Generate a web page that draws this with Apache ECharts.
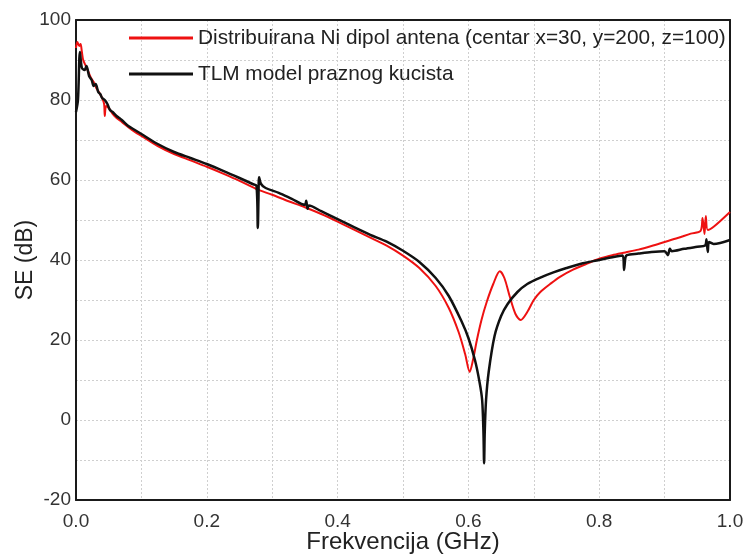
<!DOCTYPE html>
<html>
<head>
<meta charset="utf-8">
<script src="https://cdn.jsdelivr.net/npm/echarts@6/dist/echarts.min.js"></script>
<style>html,body{margin:0;padding:0;background:#fff}#c{width:750px;height:554px}</style>
</head>
<body>
<div id="c"></div>
<script>
const seriesNames = ["Distribuirana Ni dipol antena (centar x=30, y=200, z=100)", "TLM model praznog kucista"];
const xTicks = [0, 0.2, 0.4, 0.6, 0.8, 1.0];
const yTicks = [-20, 0, 20, 40, 60, 80, 100];

const redFreq = [0.000,0.002,0.005,0.007,0.009,0.011,0.015,0.019,0.023,0.027,0.031,0.035,0.040,0.043,0.044,0.046,0.050,0.056,0.062,0.070,0.080,0.090,0.100,0.125,0.150,0.175,0.200,0.225,0.250,0.275,0.300,0.325,0.350,0.375,0.400,0.425,0.450,0.475,0.500,0.525,0.550,0.570,0.585,0.595,0.602,0.607,0.613,0.620,0.628,0.638,0.648,0.655,0.663,0.672,0.680,0.690,0.700,0.710,0.725,0.740,0.760,0.780,0.800,0.820,0.840,0.860,0.880,0.900,0.920,0.940,0.955,0.958,0.961,0.963,0.966,0.975,1.000];
const redSE = [93,94.5,93.5,94,92,90,88.5,87,85.5,84.5,83,82,80.5,79,76,78.5,78,76.5,75.5,74.5,73.2,72,71,68.5,66.5,64.9,63.3,61.6,59.8,57.8,56.3,54.7,53.2,51.5,49.6,47.6,45.6,43.6,41.1,38,33.5,28,22,16.5,12,15,20,25,29.5,34,37.2,35.5,31,26.5,25,27,30,32,34,35.8,37.6,39,40.3,41.2,41.9,42.6,43.5,44.5,45.5,46.6,47.3,50.5,46.5,51,47.5,48.3,52];

const blackFreq = [0.000,0.003,0.006,0.009,0.013,0.016,0.020,0.024,0.027,0.030,0.034,0.037,0.040,0.044,0.048,0.052,0.056,0.062,0.070,0.080,0.090,0.100,0.125,0.150,0.175,0.200,0.225,0.250,0.270,0.276,0.278,0.279,0.280,0.283,0.290,0.310,0.330,0.350,0.352,0.354,0.356,0.375,0.400,0.425,0.450,0.475,0.500,0.525,0.550,0.570,0.590,0.600,0.610,0.617,0.621,0.623,0.624,0.625,0.627,0.631,0.640,0.650,0.660,0.675,0.690,0.710,0.730,0.750,0.775,0.800,0.820,0.836,0.838,0.840,0.842,0.860,0.880,0.900,0.905,0.908,0.911,0.930,0.950,0.962,0.964,0.966,0.968,0.975,1.000];
const blackSE = [77,80,92,88,87.5,88.5,86,85,83.5,84,82,81.5,80.5,80,79,77.5,77,76,75,73.5,72.5,71.5,69,67,65.5,64,62.3,60.5,59,58.5,48,55,60.7,59,58,56.8,55.3,53.8,54.8,52.8,53.6,52.2,50.2,48.2,46.3,44.6,42.3,39.5,35.5,31,24.5,20.5,15,9.5,5,-3,-10.8,-3,5,12,21,26,29,32,34,35.6,36.9,38,39.2,40,40.7,41.1,37.5,40.5,41.2,41.6,42,42.2,41.2,42.8,42.2,42.8,43.3,43.6,45.2,42,44.5,44,45];

const zip = (a, b) => a.map((x, i) => [x, b[i]]);
const font = "Arial, 'Liberation Sans', sans-serif";
const gridLine = { show: true, showMinLine: false, showMaxLine: false, lineStyle: { color: '#cfcfcf', type: [2, 2], width: 1 } };
const frameLine = { show: true, onZero: false, lineStyle: { color: '#1a1a1a', width: 2 } };

const chart = echarts.init(document.getElementById('c'), null, { renderer: 'canvas' });
chart.setOption({
  animation: false,
  backgroundColor: '#fff',
  grid: { left: 76, right: 20, top: 20, bottom: 54, containLabel: false, outerBoundsMode: 'none' },
  legend: {
    orient: 'vertical', left: 124, top: 21, icon: 'rect', itemWidth: 64, itemHeight: 3, itemGap: 12,
    textStyle: { fontFamily: font, fontSize: 20.8, color: '#222', lineHeight: 24 },
    data: seriesNames
  },
  xAxis: [{
    type: 'value', min: xTicks[0], max: xTicks[xTicks.length - 1], interval: 0.2,
    name: 'Frekvencija (GHz)', nameLocation: 'middle', nameGap: 30, nameMoveOverlap: false,
    nameTextStyle: { fontFamily: font, fontSize: 24, color: '#222' },
    axisLine: frameLine,
    axisTick: { show: false },
    axisLabel: { margin: 12, fontFamily: font, fontSize: 19, color: '#333', formatter: v => v.toFixed(1) },
    splitLine: gridLine,
    minorTick: { show: false, splitNumber: 2 },
    minorSplitLine: gridLine
  }, {
    type: 'value', position: 'top', min: 0, max: 1,
    axisLine: frameLine, axisTick: { show: false }, axisLabel: { show: false }, splitLine: { show: false }
  }],
  yAxis: [{
    type: 'value', min: yTicks[0], max: yTicks[yTicks.length - 1], interval: 20,
    name: 'SE (dB)', nameLocation: 'middle', nameGap: 39, nameMoveOverlap: false,
    nameTextStyle: { fontFamily: font, fontSize: 23, color: '#222' },
    axisLine: frameLine,
    axisTick: { show: false },
    axisLabel: { margin: 5, fontFamily: font, fontSize: 19, color: '#333' },
    splitLine: gridLine,
    minorTick: { show: false, splitNumber: 2 },
    minorSplitLine: gridLine
  }, {
    type: 'value', position: 'right', min: -20, max: 100,
    axisLine: frameLine, axisTick: { show: false }, axisLabel: { show: false }, splitLine: { show: false }
  }],
  series: [
    { name: seriesNames[0], type: 'line', symbol: 'none', smooth: 0.3, data: zip(redFreq, redSE),
      lineStyle: { color: '#ee1111', width: 2 }, itemStyle: { color: '#ee1111' }, z: 2 },
    { name: seriesNames[1], type: 'line', symbol: 'none', smooth: 0.3, data: zip(blackFreq, blackSE),
      lineStyle: { color: '#111111', width: 2.5 }, itemStyle: { color: '#111111' }, z: 3 }
  ]
});
</script>
</body>
</html>
